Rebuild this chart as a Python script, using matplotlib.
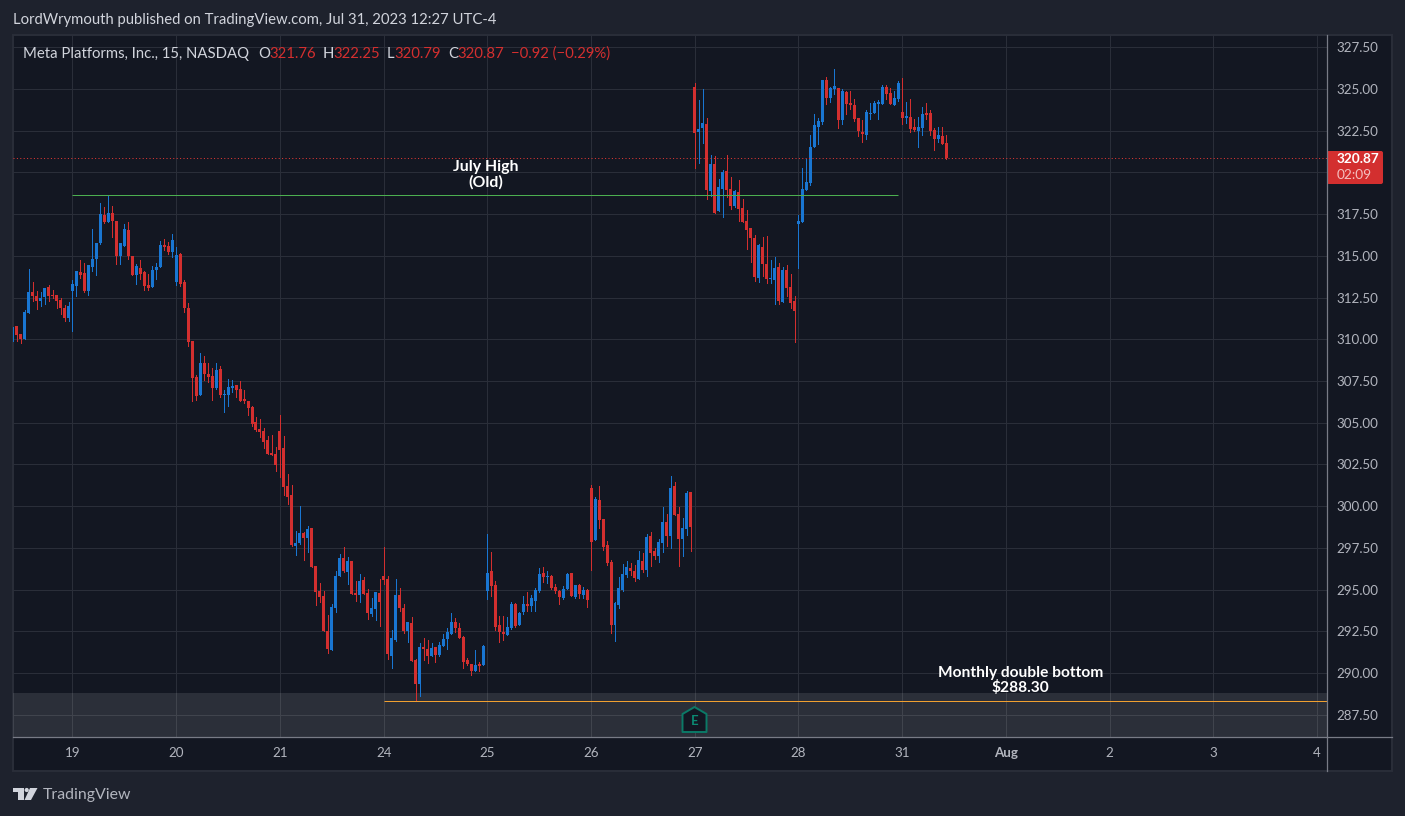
# plot.py
import numpy as np
import matplotlib
matplotlib.use("Agg")
import matplotlib.pyplot as plt
from matplotlib.patches import FancyBboxPatch, Polygon, Rectangle, Circle

W, H = 1405, 816
BG = "#1e222d"
PANE = "#131722"
BORDER = "#2a2e39"
AXIS = "#787b86"
TEXT = "#b2b5be"
RED = "#d32f2f"
BLUE = "#1976d2"
FONT = "Lato"

# 15 minute bars, left to right
opens = [
    309.92, 310.80, 310.32, 310.04, 311.58, 312.84, 312.60, 312.30, 312.54, 313.14,
    312.66, 312.66, 312.36, 311.88, 311.28, 312.90, 313.20, 314.04, 313.98, 312.90,
    314.34, 314.82, 315.78, 317.46, 317.04, 317.58, 317.10, 315.00, 315.60, 316.56,
    315.00, 313.86, 314.28, 314.04, 313.26, 313.14, 314.16, 314.34, 315.66, 315.60,
    315.24, 313.44, 315.12, 313.44, 311.88, 309.90, 307.74, 306.66, 308.58, 307.92,
    307.80, 307.08, 308.22, 306.66, 306.66, 307.08, 307.26, 307.02, 306.42, 306.30,
    305.94, 305.04, 304.62, 304.50, 303.96, 303.18, 303.12, 304.50, 303.48, 301.20,
    300.66, 297.60, 297.78, 298.38, 298.08, 298.68, 296.40, 294.90, 294.60, 292.50,
    291.36, 293.88, 295.80, 296.88, 296.04, 296.70, 294.78, 294.66, 295.56, 294.78,
    293.52, 293.82, 294.78, 295.80, 295.66, 291.04, 292.00, 294.70, 293.92, 292.54,
    293.02, 290.80, 289.36, 291.58, 291.46, 291.04, 291.58, 291.10, 291.64, 292.06,
    292.36, 293.08, 292.72, 292.18, 290.80, 290.56, 290.14, 290.56, 290.50, 294.94,
    296.14, 295.30, 292.90, 292.48, 292.30, 292.72, 294.16, 292.90, 293.68, 294.16,
    294.04, 294.34, 294.94, 296.02, 295.78, 295.84, 295.18, 294.94, 294.52, 295.06,
    296.02, 294.58, 295.30, 294.70, 295.00, 301.10, 297.98, 300.38, 299.24, 297.68,
    296.66, 292.88, 294.08, 294.98, 295.88, 296.30, 296.12, 295.64, 296.72, 296.18,
    298.22, 297.32, 297.02, 297.80, 299.06, 298.22, 301.22, 299.54, 298.04, 298.64,
    300.86, 325.12, 322.42, 322.66, 322.90, 318.88, 320.50, 317.68, 319.00, 320.08,
    319.00, 317.98, 318.82, 317.86, 317.08, 316.66, 316.06, 313.66, 315.52, 314.50,
    313.60, 313.54, 314.32, 312.22, 314.14, 313.12, 312.28, 316.90, 317.02, 318.94,
    319.36, 321.52, 322.72, 323.02, 325.54, 324.46, 325.00, 325.06, 323.14, 324.82,
    324.16, 324.04, 323.26, 322.42, 322.24, 323.50, 323.56, 324.10, 324.10, 325.12,
    324.76, 324.04, 324.40, 323.62, 323.26, 323.32, 322.72, 322.48, 322.66, 323.56,
    323.56, 322.54, 322.00, 322.18, 321.76,
]
highs = [
    310.74, 310.80, 310.32, 311.76, 314.22, 313.44, 312.90, 312.84, 313.08, 313.26,
    312.96, 312.66, 312.48, 312.06, 312.24, 313.56, 314.10, 314.76, 314.58, 314.46,
    316.62, 315.78, 318.18, 317.94, 318.66, 318.00, 317.10, 315.78, 316.92, 317.04,
    315.00, 314.52, 314.76, 314.10, 313.92, 314.40, 314.58, 315.90, 316.02, 315.84,
    316.32, 315.54, 315.18, 313.56, 312.18, 309.90, 307.86, 309.18, 309.00, 308.58,
    308.28, 308.58, 308.40, 306.96, 307.62, 307.56, 307.26, 307.50, 306.96, 306.30,
    306.00, 305.34, 305.22, 304.68, 304.20, 304.26, 303.54, 305.46, 304.20, 301.92,
    301.26, 298.50, 300.00, 298.44, 298.80, 298.68, 296.40, 295.38, 294.90, 293.46,
    294.12, 296.10, 297.12, 297.54, 296.94, 296.70, 295.50, 295.92, 295.74, 295.02,
    294.48, 294.84, 295.62, 297.54, 295.84, 292.60, 295.66, 295.12, 294.16, 293.08,
    293.38, 290.86, 291.82, 292.12, 292.00, 291.82, 291.58, 291.88, 292.36, 292.72,
    293.62, 293.32, 293.02, 292.24, 290.92, 290.56, 291.40, 290.68, 291.70, 298.36,
    297.28, 295.54, 293.44, 293.44, 293.38, 294.28, 294.22, 293.68, 294.64, 294.88,
    294.70, 295.12, 296.32, 296.38, 296.14, 295.90, 295.36, 295.00, 295.24, 296.02,
    296.02, 295.30, 295.36, 295.18, 295.06, 301.28, 300.56, 301.22, 299.24, 297.92,
    296.78, 294.26, 295.76, 296.54, 296.72, 296.60, 296.48, 297.32, 297.20, 298.34,
    298.46, 297.50, 298.04, 299.96, 299.54, 301.82, 301.46, 299.96, 299.30, 300.92,
    300.86, 325.36, 324.34, 325.00, 323.26, 321.04, 320.98, 319.60, 320.14, 321.04,
    319.72, 318.94, 319.54, 318.40, 317.74, 316.66, 316.24, 315.70, 316.12, 316.18,
    314.74, 314.92, 314.56, 314.32, 314.44, 313.90, 312.58, 317.44, 320.26, 320.80,
    322.24, 323.50, 323.26, 325.54, 325.72, 325.12, 326.20, 325.06, 325.00, 324.88,
    324.88, 324.40, 323.26, 323.14, 323.74, 324.16, 324.28, 324.34, 325.24, 325.24,
    325.06, 324.88, 325.48, 325.66, 324.22, 324.40, 323.20, 323.32, 323.92, 324.16,
    323.74, 322.66, 322.72, 322.72, 322.25,
]
lows = [
    309.92, 309.92, 309.80, 310.04, 311.58, 312.30, 311.82, 312.00, 312.12, 312.30,
    312.48, 311.88, 311.52, 311.10, 311.10, 310.50, 312.60, 313.68, 312.84, 312.66,
    314.10, 313.86, 315.72, 316.98, 317.04, 316.14, 314.52, 314.52, 315.60, 314.82,
    313.86, 313.32, 313.62, 312.96, 312.96, 313.14, 313.62, 314.34, 315.36, 315.12,
    314.94, 313.26, 313.20, 311.64, 309.60, 306.30, 306.36, 306.66, 307.56, 307.44,
    306.36, 307.02, 306.54, 305.64, 306.00, 306.84, 306.54, 306.30, 306.18, 305.46,
    304.80, 304.50, 304.14, 303.48, 303.12, 303.06, 302.10, 301.74, 300.66, 300.12,
    297.60, 297.06, 297.72, 296.76, 297.24, 296.34, 294.06, 294.24, 292.50, 291.18,
    291.36, 293.64, 295.80, 296.04, 295.32, 294.72, 294.30, 294.24, 294.72, 293.22,
    293.40, 293.16, 292.80, 295.32, 290.86, 290.32, 291.94, 293.74, 292.42, 291.88,
    290.74, 288.34, 288.64, 290.80, 290.62, 291.04, 290.68, 291.04, 291.64, 291.46,
    292.36, 292.48, 292.12, 290.32, 290.50, 289.90, 290.14, 290.14, 290.50, 294.46,
    294.64, 292.60, 291.88, 292.00, 292.30, 292.66, 292.78, 292.90, 293.56, 293.74,
    293.74, 293.74, 294.88, 295.48, 295.42, 295.06, 294.82, 294.16, 294.46, 295.04,
    294.64, 294.52, 294.52, 294.52, 293.98, 296.18, 297.98, 298.70, 297.38, 296.48,
    292.40, 291.92, 293.90, 294.92, 295.76, 295.88, 295.52, 295.64, 296.06, 295.82,
    296.42, 296.84, 296.66, 297.26, 297.62, 297.50, 299.48, 296.42, 297.02, 298.28,
    297.32, 320.26, 320.56, 321.76, 318.40, 318.58, 317.56, 317.68, 317.32, 318.52,
    317.80, 317.92, 317.08, 317.02, 315.40, 314.62, 313.48, 313.42, 313.78, 313.36,
    313.36, 312.10, 312.10, 312.22, 312.58, 311.86, 309.82, 314.26, 317.02, 318.94,
    319.24, 321.52, 321.70, 322.90, 324.10, 324.22, 324.70, 322.66, 322.90, 323.50,
    323.80, 323.08, 322.18, 321.82, 322.00, 323.20, 323.56, 323.20, 324.10, 324.40,
    324.10, 324.04, 324.28, 322.90, 322.96, 322.42, 322.48, 321.52, 322.24, 323.20,
    322.24, 321.34, 321.82, 321.70, 320.79,
]
closes = [
    310.74, 310.26, 310.04, 311.64, 312.84, 312.60, 312.30, 312.48, 313.08, 312.60,
    312.60, 312.30, 311.88, 311.28, 312.00, 313.32, 314.10, 313.86, 312.90, 314.46,
    314.82, 315.78, 317.52, 317.04, 317.58, 317.10, 315.00, 315.78, 316.62, 315.00,
    313.86, 314.40, 313.92, 313.20, 313.08, 314.16, 314.34, 315.66, 315.54, 315.24,
    315.96, 315.06, 313.32, 311.88, 309.84, 307.68, 306.60, 308.58, 307.92, 307.74,
    307.08, 308.16, 306.66, 306.72, 307.14, 307.20, 306.96, 306.30, 306.30, 305.88,
    304.92, 304.56, 304.44, 303.84, 303.12, 303.06, 302.46, 303.36, 301.14, 300.54,
    297.66, 297.78, 298.38, 298.08, 298.62, 296.34, 294.84, 294.54, 292.50, 291.42,
    293.94, 295.80, 296.88, 296.10, 296.70, 294.72, 294.66, 295.50, 294.72, 293.58,
    293.88, 294.84, 294.24, 295.56, 291.16, 292.12, 294.70, 293.92, 292.54, 293.08,
    290.74, 289.36, 291.58, 291.46, 291.04, 291.52, 291.10, 291.70, 292.06, 292.48,
    293.08, 292.72, 292.12, 290.68, 290.56, 290.14, 290.50, 290.44, 291.64, 296.02,
    295.24, 292.78, 292.48, 292.36, 292.78, 294.16, 292.84, 293.62, 294.16, 294.04,
    294.52, 295.00, 295.96, 295.78, 295.84, 295.12, 294.94, 294.58, 295.06, 295.96,
    294.64, 295.30, 294.76, 295.00, 294.40, 297.86, 300.44, 299.18, 297.56, 296.60,
    292.88, 294.20, 295.10, 295.94, 296.36, 296.12, 295.70, 296.78, 296.18, 298.16,
    297.20, 297.02, 297.86, 299.06, 298.22, 301.10, 299.48, 298.04, 298.70, 300.80,
    298.76, 322.36, 322.60, 322.96, 318.94, 320.50, 317.56, 319.12, 320.02, 318.94,
    317.98, 318.88, 317.80, 317.02, 316.54, 316.06, 313.72, 315.64, 314.50, 313.60,
    313.66, 314.26, 312.28, 314.14, 313.06, 312.16, 311.68, 317.08, 319.00, 319.42,
    321.52, 322.84, 323.08, 325.54, 324.46, 325.06, 325.18, 323.14, 324.88, 324.10,
    324.04, 323.20, 322.48, 322.30, 323.62, 323.56, 324.16, 324.22, 325.12, 324.70,
    324.10, 324.46, 325.36, 323.26, 323.38, 322.60, 322.54, 322.72, 323.50, 323.44,
    322.48, 322.00, 322.24, 321.70, 320.87,
]

# time axis: one session is 26 bars
day_labels = ["19", "20", "21", "24", "25", "26", "27", "28", "31", "Aug", "2", "3", "4"]
first_day_bar = 15
bars_per_day = 26

price_ticks = [287.5, 290, 292.5, 295, 297.5, 300, 302.5, 305, 307.5, 310, 312.5,
               315, 317.5, 320, 322.5, 325, 327.5]
# 320.00 sits under the last price tag
price_tick_labels = ["287.50", "290.00", "292.50", "295.00", "297.50", "300.00", "302.50",
                     "305.00", "307.50", "310.00", "312.50", "315.00", "317.50", "",
                     "322.50", "325.00", "327.50"]

last_price = 320.87
july_high = 318.62
double_bottom = 288.30
zone_top = 288.80
july_line_end_bar = 222
double_bottom_bar = 93

o, h, l, c = map(np.array, (opens, highs, lows, closes))
x = np.arange(len(o))
up = c >= o

fig = plt.figure(figsize=(W / 100, H / 100), dpi=100, facecolor=BG)

# pane behind everything
under = fig.add_axes([0, 0, 1, 1], zorder=0)
under.set_xlim(0, W)
under.set_ylim(H, 0)
under.axis("off")
under.add_patch(Rectangle((13, 35), 1379, 736, facecolor=PANE, edgecolor=BORDER, linewidth=1.4))

ax = fig.add_axes([13 / W, (H - 737) / H, 1314 / W, 702 / H], zorder=1)
ax.patch.set_alpha(0)
ax.set_xlim(0.084, 329.49)
ax.set_ylim(286.165, 328.236)
for s in ax.spines.values():
    s.set_visible(False)

ax.set_axisbelow(True)
ax.grid(True, color=BORDER, linewidth=0.72)

day_ticks = [first_day_bar + bars_per_day * k for k in range(len(day_labels))]
ax.set_xticks(day_ticks)
ax.set_xticklabels(day_labels, fontfamily=FONT, fontsize=9.6, color=TEXT)
ax.get_xticklabels()[day_labels.index("Aug")].set_fontweight("bold")
ax.yaxis.tick_right()
ax.set_yticks(price_ticks)
ax.set_yticklabels(price_tick_labels, fontfamily=FONT, fontsize=9.6, color=TEXT)
ax.tick_params(axis="both", length=0)
ax.tick_params(axis="x", pad=7.5)
ax.tick_params(axis="y", pad=7)

# highlighted zone at the bottom
ax.axhspan(ax.get_ylim()[0], zone_top, facecolor="white", alpha=0.105, linewidth=0, zorder=1)

# candles
colors = np.where(up, BLUE, RED)
wicks = ax.vlines(x, l, h, colors=colors, linewidth=0.72, zorder=2, antialiased=False)
wicks.set_snap(True)
ax.bar(x, np.maximum(np.abs(c - o), 0.06), bottom=np.minimum(o, c), width=0.75,
       color=colors, linewidth=0, zorder=3)

# drawn levels
july_line = ax.hlines(july_high, first_day_bar, july_line_end_bar, color="#4caf50", linewidth=0.72, zorder=4)
july_line.set_snap(True)
bottom_line = ax.hlines(double_bottom, double_bottom_bar, ax.get_xlim()[1], color="#f0a030", linewidth=0.72, zorder=4)
bottom_line.set_snap(True)
ax.axhline(last_price, color="#e53935", linewidth=0.72, linestyle=(0, (1.0, 2.4)), zorder=4)

ax.text(118.5, july_high + 1.23, "July High\n(Old)", color="white", fontfamily=FONT,
        fontweight="bold", fontsize=11.4, ha="center", va="center", linespacing=1.12, zorder=5)
ax.text(252.6, double_bottom + 1.25, "Monthly double bottom\n$288.30", color="white", fontfamily=FONT,
        fontweight="bold", fontsize=11.2, ha="center", va="center", linespacing=1.08, zorder=5)

# everything on top, in pixels
top = fig.add_axes([0, 0, 1, 1], zorder=2)
top.set_xlim(0, W)
top.set_ylim(H, 0)
top.axis("off")
top.patch.set_alpha(0)

top.plot([13, 1392], [737, 737], color=AXIS, linewidth=0.9)
top.plot([1327, 1327], [35, 771], color=AXIS, linewidth=0.9)

top.text(13, 20, "LordWrymouth published on TradingView.com, Jul 31, 2023 12:27 UTC-4",
         color="#d1d4dc", fontfamily=FONT, fontsize=10.7, va="center")

# legend row: (x, text, colour)
legend_grey = "#d1d4dc"
legend_red = "#d32f2f"
for lx, txt, col in [(23, "Meta Platforms, Inc., 15, NASDAQ", legend_grey),
                     (258, "O", legend_grey), (269, "321.76", legend_red),
                     (323, "H", legend_grey), (333, "322.25", legend_red),
                     (387, "L", legend_grey), (394, "320.79", legend_red),
                     (448, "C", legend_grey), (457, "320.87", legend_red),
                     (511, "\u22120.92 (\u22120.29%)", legend_red)]:
    top.text(lx, 54, txt, color=col, fontfamily=FONT, fontsize=10.7, va="center")

# last price tag
top.add_patch(FancyBboxPatch((1327, 151), 56, 33, boxstyle="round,pad=0,rounding_size=2",
                             facecolor=RED, edgecolor="none"))
top.text(1337, 159, "320.87", color="white", fontfamily=FONT, fontweight="bold", fontsize=9.8, va="center")
top.text(1337, 175, "02:09", color="#f4c0c0", fontfamily=FONT, fontsize=9.8, va="center")

# earnings marker
ex = 694.5
top.add_patch(Polygon([(ex, 707), (ex + 12, 714), (ex + 12, 732), (ex - 12, 732), (ex - 12, 714)],
                      closed=True, facecolor=PANE, edgecolor="#0b7a67", linewidth=1.4, joinstyle="round"))
top.text(ex, 721, "E", color="#0b8a73", fontfamily=FONT, fontweight="bold", fontsize=9.5,
         ha="center", va="center")

# TradingView logo
logo = "#d1d4dc"
top.add_patch(Polygon([(13, 788), (24, 788), (24, 800), (18, 800), (18, 792), (13, 792)],
                      closed=True, facecolor=logo, edgecolor="none"))
top.add_patch(Circle((26.7, 790), 2.1, facecolor=logo, edgecolor="none"))
top.add_patch(Polygon([(30, 788), (37.5, 788), (31, 800), (24.5, 800)],
                      closed=True, facecolor=logo, edgecolor="none"))
top.text(43, 795, "TradingView", color=TEXT, fontfamily=FONT, fontsize=11.4, va="center")

fig.savefig("out.png", dpi=100, facecolor=BG)
